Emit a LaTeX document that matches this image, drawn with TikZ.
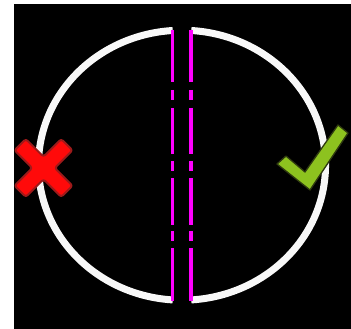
\documentclass[tikz,border=0pt]{standalone}
\usepackage{tikz}
\definecolor{ringWhite}{HTML}{F8F8F8}
\definecolor{cutMagenta}{HTML}{FF00FF}
\definecolor{crossRed}{HTML}{FF0A0A}
\definecolor{crossEdge}{HTML}{9E1A1A}
\definecolor{tickGreen}{HTML}{8DC21F}
\definecolor{tickEdge}{HTML}{2F3A10}
\begin{document}
\begin{tikzpicture}[
  x=1pt, y=-1pt,
  ring/.style={draw=ringWhite, line width=7pt, line cap=butt},
  cutline/.style={draw=cutMagenta, line width=3.6pt, line cap=butt},
  crossmark/.style={fill=crossRed, draw=crossEdge, line width=2pt, rounded corners=2.5pt, line join=round},
  tickmark/.style={fill=tickGreen, draw=tickEdge, line width=1.3pt, line join=round}
]
  \useasboundingbox (0,0) rectangle (351,329);
  \fill[white] (0,0) rectangle (351,329);
  \fill[black] (14,4) rectangle (351,329);

  \coordinate (centre) at (182,165.5);
  \draw[ring] (172.7,30.5) arc[start angle=-93.7, end angle=-266.3, x radius=143.5, y radius=135];
  \draw[ring] (191.3,30.5) arc[start angle=-86.3, end angle=86.3, x radius=143.5, y radius=135];

  \foreach \xcut in {172.4,191.2}
    \foreach \ya/\yb in {30/82, 90/100, 108/154, 161/171, 178/225, 231/241, 248/301}
      \draw[cutline] (\xcut,\ya) -- (\xcut,\yb);

  \begin{scope}[shift={(43.5,168)}, rotate=45]
    \draw[crossmark] (33,8) -- (8,8) -- (8,33) -- (-8,33) -- (-8,8) -- (-33,8)
      -- (-33,-8) -- (-8,-8) -- (-8,-33) -- (8,-33) -- (8,-8) -- (33,-8) -- cycle;
  \end{scope}

  \draw[tickmark] (277,164) -- (286,156) -- (305,172) -- (338,125) -- (348,133)
    -- (310,190) -- cycle;
\end{tikzpicture}
\end{document}
